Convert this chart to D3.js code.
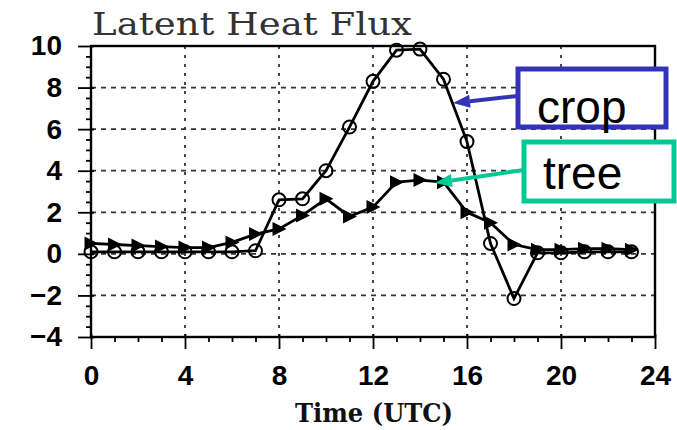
<!DOCTYPE html>
<html>
<head>
<meta charset="utf-8">
<script src="https://cdn.jsdelivr.net/npm/d3@7"></script>
<style>
  body { margin: 0; background: #fff; }
  svg { display: block; }
</style>
</head>
<body>
<svg id="chart" width="677" height="430"></svg>
<script>
    "use strict";

    // hours (UTC) and the two latent heat flux series
    const hours = [0, 1, 2, 3, 4, 5, 6, 7, 8, 9, 10, 11, 12, 13, 14, 15, 16, 17, 18, 19, 20, 21, 22, 23];
    const crop = [0.1, 0.1, 0.1, 0.1, 0.1, 0.1, 0.1, 0.15, 2.6, 2.65, 4.0, 6.1, 8.3, 9.8, 9.85, 8.4, 5.4, 0.5, -2.15, 0.05, 0.05, 0.1, 0.1, 0.1];
    const tree = [0.5, 0.45, 0.4, 0.35, 0.3, 0.3, 0.55, 0.95, 1.2, 1.85, 2.65, 1.8, 2.25, 3.45, 3.55, 3.45, 2.0, 1.5, 0.45, 0.2, 0.2, 0.25, 0.25, 0.2];

    const xTicks = [0, 4, 8, 12, 16, 20, 24];
    const yTicks = [-4, -2, 0, 2, 4, 6, 8, 10];
    const xGrid = [4, 8, 12, 16, 20];
    const yGrid = [-2, 0, 2, 4, 6, 8];

    const svg = d3.select("#chart");
    const x = d3.scaleLinear().domain([0, 24]).range([91, 655]);
    const y = d3.scaleLinear().domain([-4, 10]).range([337, 46]);

    // grid
    const grid = svg.append("g").attr("stroke", "#333").attr("stroke-width", 1.8);
    grid.selectAll("line.v").data(xGrid).join("line")
        .attr("class", "v")
        .attr("x1", d => x(d)).attr("x2", d => x(d))
        .attr("y1", y(10)).attr("y2", y(-4))
        .attr("stroke-dasharray", "3,6");
    grid.selectAll("line.h").data(yGrid).join("line")
        .attr("class", "h")
        .attr("x1", x(0)).attr("x2", x(24))
        .attr("y1", d => y(d)).attr("y2", d => y(d))
        .attr("stroke-dasharray", "5,5");

    // minor ticks
    const xMinor = d3.range(0, 25, 1).filter(d => d % 4 !== 0);
    const yMinor = d3.range(-4, 10.01, 0.5).filter(d => d % 2 !== 0);

    const xAxisMinor = svg.append("g").attr("transform", `translate(0,${y(-4)})`)
        .call(d3.axisBottom(x).tickValues(xMinor).tickSize(5).tickFormat(""));
    const yAxisMinor = svg.append("g").attr("transform", `translate(${x(0)},0)`)
        .call(d3.axisLeft(y).tickValues(yMinor).tickSize(5).tickFormat(""));

    const xAxis = svg.append("g").attr("transform", `translate(0,${y(-4)})`)
        .call(d3.axisBottom(x).tickValues(xTicks).tickSize(12).tickPadding(15));
    const yAxis = svg.append("g").attr("transform", `translate(${x(0)},0)`)
        .call(d3.axisLeft(y).tickValues(yTicks).tickSize(13).tickPadding(16)
            .tickFormat(d => d < 0 ? "\u2212" + Math.abs(d) : d));

    xAxis.selectAll(".tick line").attr("y1", -3);
    yAxis.selectAll(".tick line").attr("x1", 3);

    [xAxisMinor, yAxisMinor, xAxis, yAxis].forEach(g => {
        g.select(".domain").remove();
        g.selectAll(".tick line").attr("stroke", "#000").attr("stroke-width", 1.8);
        g.selectAll("text")
            .attr("fill", "#000")
            .style("font-family", "'Liberation Sans', Arial, sans-serif")
            .style("font-weight", "bold")
            .style("font-size", "28px");
    });
    xAxis.selectAll("text").attr("dy", "0.75em");

    // frame
    svg.append("rect")
        .attr("x", x(0)).attr("y", y(10))
        .attr("width", x(24) - x(0)).attr("height", y(-4) - y(10))
        .attr("fill", "none").attr("stroke", "#000").attr("stroke-width", 2.4);

    // series
    const line = d3.line().x((d, i) => x(hours[i])).y(d => y(d));
    svg.append("path").datum(tree).attr("d", line)
        .attr("fill", "none").attr("stroke", "#000").attr("stroke-width", 2.8);
    svg.append("path").datum(crop).attr("d", line)
        .attr("fill", "none").attr("stroke", "#000").attr("stroke-width", 2.8);

    svg.append("g").selectAll("path").data(tree).join("path")
        .attr("transform", (d, i) => `translate(${x(hours[i])},${y(d)})`)
        .attr("d", "M-6.5,-7 L7.5,0 L-6.5,7 Z")
        .attr("fill", "#000");
    svg.append("g").selectAll("circle").data(crop).join("circle")
        .attr("cx", (d, i) => x(hours[i])).attr("cy", d => y(d))
        .attr("r", 6.5)
        .attr("fill", "none").attr("stroke", "#000").attr("stroke-width", 2);

    // titles
    svg.append("text")
        .attr("x", 92).attr("y", 35)
        .attr("textLength", 320).attr("lengthAdjust", "spacingAndGlyphs")
        .style("font-family", "'DejaVu Serif', serif")
        .style("font-size", "32px")
        .attr("fill", "#333")
        .text("Latent Heat Flux");
    svg.append("text")
        .attr("x", 295).attr("y", 422)
        .attr("textLength", 158).attr("lengthAdjust", "spacingAndGlyphs")
        .style("font-family", "'DejaVu Serif', serif")
        .style("font-weight", "bold")
        .style("font-size", "26px")
        .attr("fill", "#111")
        .text("Time (UTC)");

    // callout labels
    function arrow(x1, y1, x2, y2, color) {
        const a = Math.atan2(y2 - y1, x2 - x1);
        const len = 17, half = 6.5;
        const bx = x2 - len * Math.cos(a), by = y2 - len * Math.sin(a);
        const px = -Math.sin(a) * half, py = Math.cos(a) * half;
        svg.append("line")
            .attr("x1", x1).attr("y1", y1).attr("x2", bx).attr("y2", by)
            .attr("stroke", color).attr("stroke-width", 4);
        svg.append("path")
            .attr("d", `M${x2},${y2} L${bx + px},${by + py} L${bx - px},${by - py} Z`)
            .attr("fill", color);
    }

    const callouts = [
        { label: "crop", color: "#3333b8", box: [518, 69, 148, 58], text: [537, 123], from: [518, 96], to: [453, 103] },
        { label: "tree", color: "#00c996", box: [524, 142, 150, 59], text: [543, 189], from: [524, 170], to: [435, 183] }
    ];
    callouts.forEach(c => {
        svg.append("rect")
            .attr("x", c.box[0]).attr("y", c.box[1])
            .attr("width", c.box[2]).attr("height", c.box[3])
            .attr("fill", "#fff").attr("stroke", c.color).attr("stroke-width", 5);
        arrow(c.from[0], c.from[1], c.to[0], c.to[1], c.color);
        svg.append("text")
            .attr("x", c.text[0]).attr("y", c.text[1])
            .style("font-family", "'Liberation Sans', Arial, sans-serif")
            .style("font-size", "46px")
            .attr("fill", "#000")
            .text(c.label);
    });
</script>
</body>
</html>
